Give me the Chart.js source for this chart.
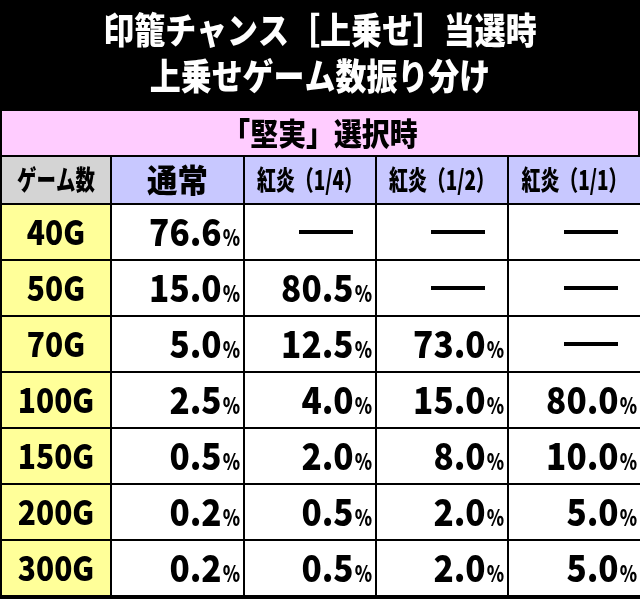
<!DOCTYPE html>
<html><head><meta charset="utf-8">
<script src="https://cdn.jsdelivr.net/npm/chart.js@4"></script>
<style>html,body{margin:0;padding:0;background:#000;overflow:hidden}#c{display:block}</style>
</head><body>
<div style="width:640px;height:599px"><canvas id="c"></canvas></div>
<script>
const titleLines = ["印籠チャンス［上乗せ］当選時", "上乗せゲーム数振り分け"];
const subTitle = "「堅実」選択時";
const headerLabel = "ゲーム数";
const columns = ["通常", "紅炎（1/4）", "紅炎（1/2）", "紅炎（1/1）"];
const games = ["40G", "50G", "70G", "100G", "150G", "200G", "300G"];
const normal = [76.6, 15.0, 5.0, 2.5, 0.5, 0.2, 0.2];
const quarter = [null, 80.5, 12.5, 4.0, 2.0, 0.5, 0.5];
const half = [null, null, 73.0, 15.0, 8.0, 2.0, 2.0];
const full = [null, null, null, 80.0, 10.0, 5.0, 5.0];
const series = [normal, quarter, half, full];

const colEdges = [0, 110, 243, 375, 507, 640];
const rowTop = 205, rowH = 56;
const font = '"Noto Sans CJK JP", sans-serif';

// draw text squeezed horizontally by factor k, aligned by ctx.textAlign
function squeezed(ctx, text, x, y, k) {
  ctx.save(); ctx.translate(x, y); ctx.scale(k, 1); ctx.fillText(text, 0, 0); ctx.restore();
}

const tablePlugin = {
  id: "table",
  afterDraw(chart) {
    const ctx = chart.ctx, sx = chart.scales.x, sy = chart.scales.y;
    const X = v => sx.getPixelForValue(v), Y = v => sy.getPixelForValue(v);
    ctx.save();
    ctx.fillStyle = "#000"; ctx.fillRect(0, 0, 640, 599);
    ctx.fillStyle = "#fff"; ctx.textAlign = "center"; ctx.textBaseline = "middle";
    ctx.font = "900 36px " + font;
    squeezed(ctx, titleLines[0], 320, Y(30), 0.86);
    squeezed(ctx, titleLines[1], 320, Y(76), 0.86);
    // pink band
    ctx.fillStyle = "#ffccff"; ctx.fillRect(2, Y(111), 636, 44);
    ctx.fillStyle = "#000"; ctx.font = "900 31px " + font;
    squeezed(ctx, subTitle, 320, Y(133), 0.9);
    // header row
    const hy = 157, hh = 46;
    for (let c = 0; c < 5; c++) {
      const x0 = X(colEdges[c]) + 2, x1 = X(colEdges[c + 1]);
      ctx.fillStyle = c === 0 ? "#d4d4d4" : "#c8c8ff";
      ctx.fillRect(x0, hy, x1 - x0, hh);
      ctx.fillStyle = "#000"; ctx.textAlign = "center";
      if (c === 0) { ctx.font = "900 27px " + font; squeezed(ctx, headerLabel, (x0 + x1) / 2, hy + hh / 2, 0.72); }
      else if (c === 1) { ctx.font = "900 32px " + font; squeezed(ctx, columns[0], (x0 + x1) / 2, hy + hh / 2, 0.95); }
      else { ctx.font = "900 27px " + font; squeezed(ctx, columns[c - 1], (x0 + x1) / 2, hy + hh / 2, 0.7); }
    }
    // data rows
    games.forEach((g, r) => {
      const y0 = Y(rowTop + r * rowH), h = rowH - 2;
      for (let c = 0; c < 5; c++) {
        const x0 = X(colEdges[c]) + 2, x1 = X(colEdges[c + 1]);
        ctx.fillStyle = c === 0 ? "#ffff99" : "#fff";
        ctx.fillRect(x0, y0, x1 - x0, h);
        ctx.fillStyle = "#000";
        const cy = y0 + h / 2;
        if (c === 0) {
          ctx.textAlign = "center"; ctx.font = "900 34px " + font;
          squeezed(ctx, g, (x0 + x1) / 2, cy, 0.88);
        } else {
          const v = series[c - 1][r];
          if (v === null) {
            ctx.fillRect(x1 - 76, cy - 2, 54, 4);
          } else {
            ctx.textAlign = "right"; ctx.font = "900 22px " + font;
            squeezed(ctx, "%", x1 - 3, cy + 6, 0.8);
            const pw = ctx.measureText("%").width * 0.8;
            ctx.font = "900 37px " + font;
            squeezed(ctx, v.toFixed(1), x1 - 4 - pw, cy, 0.9);
          }
        }
      }
    });
    ctx.restore();
  }
};

new Chart(document.getElementById("c"), {
  type: "scatter",
  data: { datasets: [{ data: [] }] },
  options: {
    responsive: true, maintainAspectRatio: false, animation: false,
    layout: { padding: 0 },
    plugins: { legend: { display: false }, tooltip: { enabled: false } },
    scales: {
      x: { type: "linear", min: 0, max: 640, display: false },
      y: { type: "linear", min: 0, max: 599, reverse: true, display: false }
    }
  },
  plugins: [tablePlugin]
});
</script>
</body></html>
